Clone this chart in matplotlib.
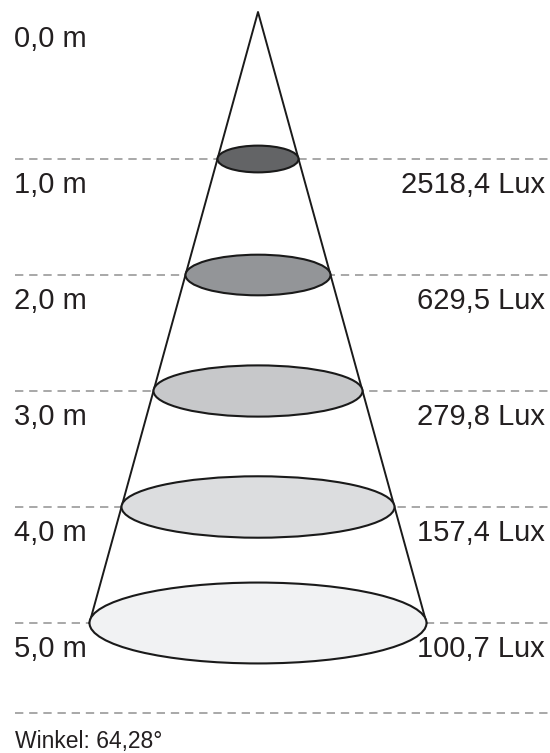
import matplotlib.pyplot as plt
from matplotlib.patches import Ellipse

plt.rcParams['font.family'] = ['Liberation Sans', 'DejaVu Sans']

# data
distances = [1.0, 2.0, 3.0, 4.0, 5.0]
lux = [2518.4, 629.5, 279.8, 157.4, 100.7]
angle = 64.28
fills = ['#636466', '#939598', '#c7c8ca', '#dcdddf', '#f1f2f3']
flatness = [0.33, 0.28, 0.245, 0.225, 0.24]   # ellipse height / width


def fmt(v, nd=1):
    return f"{v:.{nd}f}".replace('.', ',')


# pixel layout
W, H = 550, 753
cx = 258
apex_y = 12
y0 = 43           # level of 0 m
step = 116        # px per metre
bottom_r = 168.5  # half width of cone at 5 m
txt = '#231f20'

fig = plt.figure(figsize=(W / 100, H / 100), dpi=100)
ax = fig.add_axes([0, 0, 1, 1])
ax.set_xlim(0, W)
ax.set_ylim(H, 0)
ax.axis('off')

level_y = [y0 + d * step for d in distances]
slope = bottom_r / (level_y[-1] - apex_y)

# dashed guide lines
for y in level_y + [level_y[-1] + 90]:
    ax.plot([15, 548], [y, y], color='#9a9a9a', lw=1.2, ls=(0, (5, 3.5)), zorder=1)

# cone sides
ax.plot([cx - bottom_r, cx, cx + bottom_r], [level_y[-1], apex_y, level_y[-1]],
        color='#1a1a1a', lw=1.4, zorder=2)

# light spots
for y, col, fl in zip(level_y, fills, flatness):
    r = slope * (y - apex_y)
    ax.add_patch(Ellipse((cx, y), 2 * r, 2 * r * fl, facecolor=col,
                         edgecolor='#1a1a1a', lw=1.5, zorder=3))

# labels
ax.text(14, 47, fmt(0.0) + ' m', fontsize=21, color=txt, va='baseline', ha='left')
for y, d, lx in zip(level_y, distances, lux):
    ax.text(14, y + 34, fmt(d) + ' m', fontsize=21, color=txt, va='baseline', ha='left')
    ax.text(545, y + 34, fmt(lx) + ' Lux', fontsize=21, color=txt, va='baseline', ha='right')

ax.text(15, level_y[-1] + 125, 'Winkel: ' + fmt(angle, 2) + '°', fontsize=16.5,
        color=txt, va='baseline', ha='left')

fig.savefig('out.png', dpi=100)
